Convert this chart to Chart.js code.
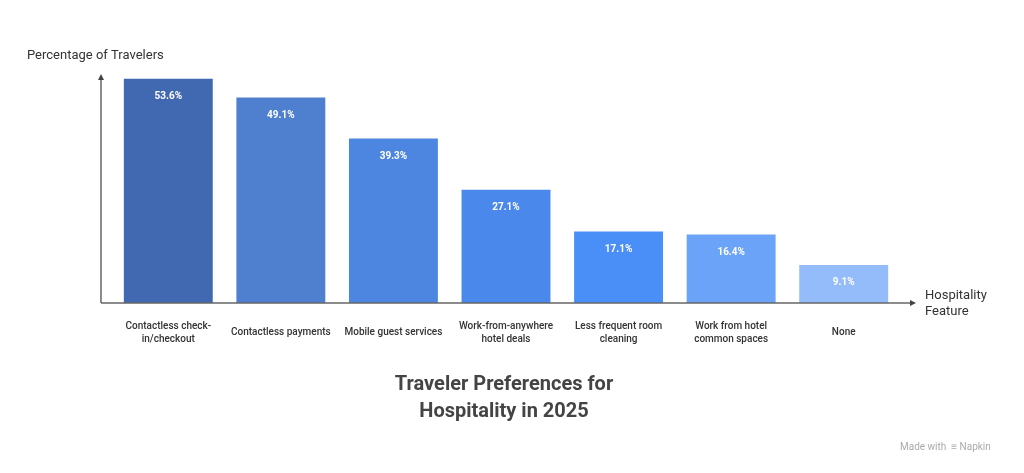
<!DOCTYPE html>
<html><head><meta charset="utf-8">
<script src="https://cdn.jsdelivr.net/npm/chart.js@4"></script>
<style>html,body{margin:0;padding:0;background:#fff}#w{width:1024px;height:473px}</style>
</head><body><div id="w"><canvas id="c"></canvas></div>
<script>
const categories = [["Contactless check-","in/checkout"],["Contactless payments"],["Mobile guest services"],["Work-from-anywhere","hotel deals"],["Less frequent room","cleaning"],["Work from hotel","common spaces"],["None"]];
const values = [53.6, 49.1, 39.3, 27.1, 17.1, 16.4, 9.1];
const barColors = ["#4169b2","#4f80cf","#4c86e0","#4a88ec","#4a8ef8","#6aa3f8","#94bbfa"];
const yTitle = "Percentage of Travelers";
const xTitle = ["Hospitality","Feature"];
const title = ["Traveler Preferences for","Hospitality in 2025"];
const F = "Roboto, 'Liberation Sans', sans-serif";

const deco = {
  id:'deco',
  afterDatasetsDraw(ch){
    const c = ch.ctx, a = ch.chartArea, x = ch.scales.x, y = ch.scales.y;
    c.save();
    // value labels
    c.fillStyle = '#fff'; c.font = 'bold 10px '+F; c.textAlign='center'; c.textBaseline='middle';
    ch.getDatasetMeta(0).data.forEach((b,i)=>{ c.fillText(values[i].toFixed(1)+'%', b.x, b.y+18); });
    // axes
    c.strokeStyle='#666'; c.fillStyle='#444'; c.lineWidth=1.5;
    const x0=101, y0=303;
    c.beginPath(); c.moveTo(x0,y0); c.lineTo(x0,79); c.stroke();
    c.beginPath(); c.moveTo(x0-3,80); c.lineTo(x0,74); c.lineTo(x0+3,80); c.fill();
    c.beginPath(); c.moveTo(x0,y0); c.lineTo(911,y0); c.stroke();
    c.beginPath(); c.moveTo(910,y0-3); c.lineTo(916,y0); c.lineTo(910,y0+3); c.fill();
    // tick labels
    c.fillStyle='#333'; c.font='500 10px '+F;
    categories.forEach((lab,i)=>{
      const px = x.getPixelForValue(i);
      const start = lab.length===1 ? 332 : 326;
      lab.forEach((l,j)=>c.fillText(l, px, start+j*13));
    });
    // axis titles
    c.font='13px '+F; c.fillStyle='#333'; c.textAlign='left';
    c.fillText(yTitle, 27, 56);
    xTitle.forEach((l,j)=>c.fillText(l, 925, 296+j*16));
    // title
    c.font='bold 20px '+F; c.fillStyle='#444'; c.textAlign='center';
    title.forEach((l,j)=>c.fillText(l, 504, 385+j*27));
    // watermark
    c.font='10px '+F; c.fillStyle='#aaa'; c.textAlign='left';
    c.fillText('Made with  \u2261 Napkin', 900, 447);
    c.restore();
  }
};

new Chart(document.getElementById('c'), {
  type:'bar',
  data:{ labels: categories.map(l=>l.join(' ')), datasets:[{ data: values, backgroundColor: barColors, categoryPercentage:0.79, barPercentage:1 }]},
  options:{
    responsive:true, maintainAspectRatio:false, animation:false,
    layout:{ padding:{ left:112, right:124, top:52, bottom:170 } },
    plugins:{ legend:{display:false}, tooltip:{enabled:false} },
    scales:{ x:{ display:false }, y:{ display:false, min:0, max:60 } }
  },
  plugins:[deco]
});
</script></body></html>
